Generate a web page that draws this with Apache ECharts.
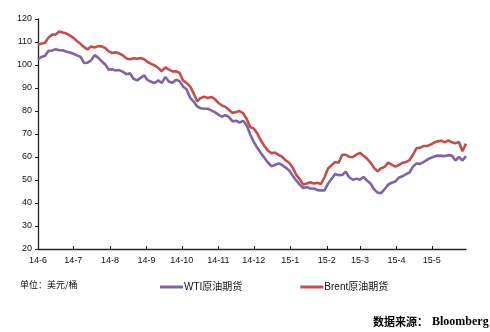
<!DOCTYPE html>
<html>
<head>
<meta charset="utf-8">
<script src="https://cdn.jsdelivr.net/npm/echarts@6/dist/echarts.min.js"></script>
<style>
  html, body { margin: 0; padding: 0; background: #fff; }
  #chart { width: 490px; height: 332px; }
</style>
</head>
<body>
<div id="chart"></div>
<script>
// Daily calendar from 2014-06-01 to 2015-05-30; prices sampled every 3 days.
const startDate = '2014-06-01';
const endDate = '2015-05-30';
const sampleStep = 3;

// Brent crude futures, USD/bbl
const brent = [
  108.8, 109.3, 109.7, 112.0, 113.2, 113.3, 114.6, 114.1, 113.7, 112.9,
  111.8, 110.4, 109.2, 107.8, 106.8, 108.0, 107.6, 108.2, 108.1, 107.4,
  105.9, 105.2, 105.5, 105.0, 104.2, 102.8, 102.5, 102.9, 102.7, 103.0,
  102.5, 101.3, 100.5, 99.8, 98.7, 97.3, 99.0, 98.0, 97.2, 97.3,
  96.6, 93.3, 92.2, 90.7, 87.7, 84.2, 85.7, 86.2, 85.7, 86.1,
  85.2, 83.5, 82.4, 81.8, 80.4, 79.1, 79.6, 80.0, 79.0, 76.5,
  73.0, 72.4, 70.2, 67.2, 64.8, 62.8, 61.6, 61.9, 60.9, 60.1,
  58.6, 57.5, 55.4, 52.3, 50.3, 48.0, 48.5, 49.0, 48.5, 48.8,
  48.3, 51.2, 55.0, 56.4, 57.8, 57.5, 61.0, 61.0, 60.0, 60.0,
  61.0, 61.8, 60.5, 59.3, 57.6, 55.3, 53.8, 55.1, 55.7, 57.6,
  56.7, 55.8, 56.5, 57.4, 57.8, 58.6, 61.0, 63.8, 64.0, 64.8,
  64.8, 65.4, 66.3, 66.8, 67.1, 66.4, 67.2, 66.4, 66.0, 66.5,
  62.5, 65.8
];

// WTI crude futures, USD/bbl
const wti = [
  102.5, 103.5, 104.0, 106.2, 106.3, 106.8, 106.4, 106.4, 105.8, 105.4,
  104.9, 104.2, 103.6, 100.9, 101.0, 102.0, 104.3, 103.2, 101.6, 100.2,
  98.0, 98.1, 97.6, 97.8, 97.0, 96.0, 96.4, 94.0, 93.3, 94.4,
  95.5, 93.4, 92.7, 92.2, 93.3, 92.2, 94.8, 92.8, 92.3, 93.6,
  93.0, 90.7, 89.4, 85.8, 84.1, 82.0, 81.2, 81.0, 81.0, 80.3,
  79.5, 78.4, 77.5, 78.2, 77.3, 75.5, 75.8, 75.0, 75.7, 73.8,
  69.8, 66.6, 64.0, 61.7, 59.7, 57.6, 56.0, 56.5, 57.2, 56.5,
  55.4, 54.1, 51.9, 49.8, 48.0, 46.5, 47.0, 46.3, 46.3, 45.6,
  45.5, 45.5, 48.4, 50.5, 52.6, 52.1, 52.2, 53.6, 51.2, 50.1,
  50.6, 50.1, 51.3, 49.8, 48.5, 46.0, 44.5, 44.3, 46.0, 48.0,
  48.8, 49.3, 51.0, 51.6, 52.5, 53.2, 55.8, 57.2, 57.0, 57.8,
  58.8, 59.6, 60.2, 60.6, 60.5, 60.4, 60.8, 60.6, 58.5, 60.0,
  58.5, 60.4
];

const yTicks = { min: 20, max: 120, interval: 10 };

// build the day-by-day category list
function pad(n) { return n < 10 ? '0' + n : '' + n; }
const days = [];
(function () {
  const d = new Date(startDate + 'T00:00:00Z');
  const end = new Date(endDate + 'T00:00:00Z');
  while (d <= end) {
    days.push(d.getUTCFullYear() + '-' + pad(d.getUTCMonth() + 1) + '-' + pad(d.getUTCDate()));
    d.setUTCDate(d.getUTCDate() + 1);
  }
})();

function toPairs(values) {
  return values.map((v, i) => [days[i * sampleStep], v]);
}

const isMonthStart = (idx, value) => value.slice(8) === '01';

const chart = echarts.init(document.getElementById('chart'), null, { renderer: 'canvas' });
chart.setOption({
  animation: false,
  backgroundColor: '#ffffff',
  grid: { left: 38, right: 24, top: 19, bottom: 83, containLabel: false },
  xAxis: {
    type: 'category',
    data: days,
    boundaryGap: false,
    axisLine: { lineStyle: { color: '#222', width: 1.3 } },
    axisTick: { interval: isMonthStart, inside: true, length: 3, lineStyle: { color: '#222' } },
    axisLabel: {
      interval: isMonthStart,
      margin: 7,
      color: '#111',
      fontFamily: 'Liberation Sans, Arial, sans-serif',
      fontSize: 9
      ,
      formatter: v => v.slice(2, 4) + '-' + parseInt(v.slice(5, 7), 10)
    },
    splitLine: { show: false }
  },
  yAxis: {
    type: 'value',
    min: yTicks.min,
    max: yTicks.max,
    interval: yTicks.interval,
    axisLine: { show: true, lineStyle: { color: '#222', width: 1.3 } },
    axisTick: { show: true, length: 3, lineStyle: { color: '#222' } },
    axisLabel: {
      margin: 6,
      color: '#111',
      fontFamily: 'Liberation Sans, Arial, sans-serif',
      fontSize: 9
    },
    splitLine: { show: false }
  },
  legend: {
    left: 160,
    top: 282,
    padding: 0,
    itemWidth: 23,
    itemHeight: 3,
    itemGap: 58,
    icon: 'rect',
    textStyle: {
      color: '#111',
      fontFamily: 'Liberation Sans, Noto Sans CJK SC, sans-serif',
      fontSize: 10,
      padding: [0, 0, 0, -4]
    },
    data: ['WTI原油期货', 'Brent原油期货']
  },
  graphic: [
    {
      type: 'text',
      left: 20,
      top: 280,
      style: {
        text: '单位：美元/桶',
        fill: '#111',
        font: '9px "Noto Sans CJK SC", sans-serif'
      }
    },
    {
      type: 'text',
      left: 373,
      top: 316,
      style: {
        text: '数据来源：',
        fill: '#000',
        font: 'bold 11px "Noto Sans CJK SC", sans-serif'
      }
    },
    {
      type: 'text',
      left: 432,
      top: 316,
      style: {
        text: 'Bloomberg',
        fill: '#000',
        font: 'bold 12px "Liberation Serif", serif'
      }
    }
  ],
  series: [
    {
      name: 'WTI原油期货',
      type: 'line',
      data: toPairs(wti),
      showSymbol: false,
      symbol: 'none',
      lineStyle: { color: '#8064a2', width: 2.6 },
      itemStyle: { color: '#8064a2' }
    },
    {
      name: 'Brent原油期货',
      type: 'line',
      data: toPairs(brent),
      showSymbol: false,
      symbol: 'none',
      lineStyle: { color: '#c0504d', width: 2.6 },
      itemStyle: { color: '#c0504d' }
    }
  ]
});
</script>
</body>
</html>
